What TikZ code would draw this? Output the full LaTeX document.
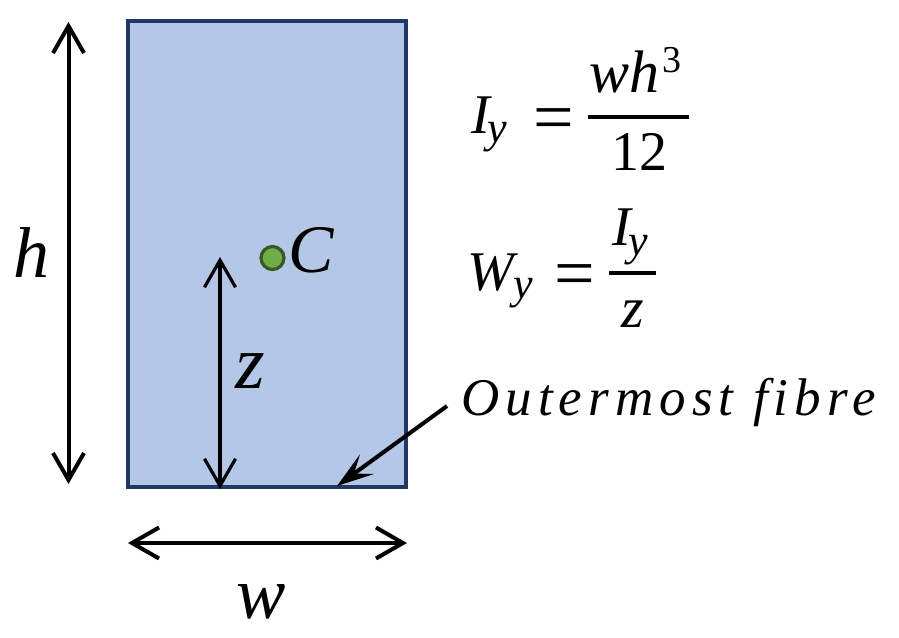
\documentclass[tikz,border=0pt]{standalone}
\usepackage{fontspec}
\setmainfont{Liberation Serif}
\newfontfamily\spacedfont[LetterSpace=11.5,ItalicFont={Liberation Serif Italic}]{Liberation Serif}
\usetikzlibrary{arrows.meta}
\definecolor{beamfill}{HTML}{B4C7E7}
\definecolor{beamline}{HTML}{1F3864}
\definecolor{dotfill}{HTML}{70AD47}
\definecolor{dotline}{HTML}{385723}
\newcommand{\suby}[2]{\kern#1pt\raisebox{-#2pt}{\fontsize{44}{44}\selectfont y}}
\tikzset{
  x=1pt,y=-1pt,
  lbl/.style={inner sep=0pt,anchor=base west,font=\fontsize{#1}{#1}\selectfont\itshape},
  num/.style={inner sep=0pt,anchor=base west,font=\fontsize{#1}{#1}\selectfont},
  dim/.style={line width=4pt,{Straight Barb[length=27pt,width=31pt,line width=4pt]}-{Straight Barb[length=27pt,width=31pt,line width=4pt]}},
  dimthin/.style={line width=3.2pt,{Straight Barb[length=27pt,width=31pt,line width=3.2pt]}-{Straight Barb[length=27pt,width=31pt,line width=3.2pt]}},
  lead/.style={line width=4pt,-{Stealth[length=37pt,width=24pt,inset=16pt]}},
  fracbar/.style={line width=4pt}
}
\begin{document}
\begin{tikzpicture}
\useasboundingbox (0,0) rectangle (899,637);
\fill[white] (0,0) rectangle (899,637);
\node[draw=beamline,fill=beamfill,line width=3.5pt,outer sep=0pt,minimum width=278pt,minimum height=466pt,inner sep=0pt,anchor=north west] (beam) at (128,21) {};
\node[circle,draw=dotline,fill=dotfill,line width=3.2pt,outer sep=0pt,minimum size=23pt,inner sep=0pt] (dot) at (272.5,258) {};
\coordinate (hT) at (68.5,22); \coordinate (hB) at (68.5,484);
\coordinate (zT) at (220,257); \coordinate (zB) at (220,489);
\coordinate (wL) at (128,543); \coordinate (wR) at (407,543);
\coordinate (fibT) at (447,406); \coordinate (fibH) at (337,486);
\draw[dim] (hT) -- (hB);
\draw[dimthin] (zT) -- (zB);
\draw[dim] (wL) -- (wR);
\draw[lead] (fibT) -- (fibH);
\node[lbl=72] (h) at (13,277) {h};
\node[lbl=68] (C) at (288,272) {C};
\node[lbl=76] (z) at (235,388) {z};
\node[lbl=74] (w) at (236,618) {w};
% I_y = wh^3/12
\node[lbl=56] (Iy) at (471,133) {I\suby{-2}{9}};
\node[num=72] (eq1) at (533,141.5) {=};
\node[lbl=60] (wh) at (589,92) {wh};
\node[num=38] (cube) at (662,72) {3};
\coordinate (b1L) at (588,117); \coordinate (b1R) at (689,117);
\draw[fracbar] (b1L) -- (b1R);
\node[num=56] (twelve) at (611,170) {12};
% W_y = I_y/z
\node[lbl=56] (Wy) at (467,290) {W\suby{0}{8}};
\node[num=72] (eq2) at (554,297.5) {=};
\node[lbl=56] (Iz) at (612,245) {I\suby{-2}{10}};
\coordinate (b2L) at (609,273); \coordinate (b2R) at (656,273);
\draw[fracbar] (b2L) -- (b2R);
\node[lbl=58] (z2) at (621,327) {z};
\node[inner sep=0pt,anchor=base west,font=\fontsize{53}{53}\selectfont\spacedfont\itshape] (fib) at (461,415) {Outermost fibre};
\end{tikzpicture}
\end{document}
